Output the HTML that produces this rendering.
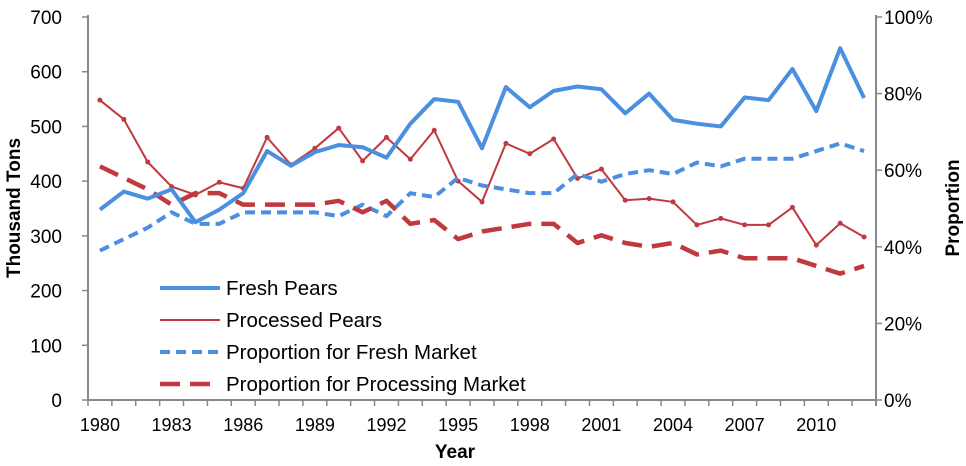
<!DOCTYPE html>
<html><head><meta charset="utf-8"><style>
body{margin:0;background:#fff;}
svg{display:block;font-family:"Liberation Sans",sans-serif;}
</style></head><body>
<svg id="c" width="966" height="466"></svg>
<script>
const years=[];for(let y=1980;y<=2012;y++)years.push(y);
const freshPears=[348,381,368,385,325,348,378,455,428,453,466,462,443,505,550,545,460,572,535,565,573,568,524,560,512,505,500,553,548,605,528,643,552];
const processedPears=[548,513,435,390,375,398,387,480,430,460,497,437,480,440,493,400,362,469,450,477,405,422,365,368,362,320,332,320,320,352,283,323,298];
const propFresh=[39,42,45,49,46,46,49,49,49,49,48,51,48,54,53,58,56,55,54,54,59,57,59,60,59,62,61,63,63,63,65,67,65];
const propProc=[61,58,55,51,54,54,51,51,51,51,52,49,52,46,47,42,44,45,46,46,41,43,41,40,41,38,39,37,37,37,35,33,35];
const leftTicks=[0,100,200,300,400,500,600,700];
const rightTicks=[0,20,40,60,80,100];
const xLabels=[1980,1983,1986,1989,1992,1995,1998,2001,2004,2007,2010];

const L=88,R=876,T=17,B=400,n=years.length,cw=(R-L)/n;
const x=y=>L+cw*(years.indexOf(y)+0.5);
const yl=v=>B-(B-T)*v/700;
const yr=v=>B-(B-T)*v/100;
const svg=document.getElementById('c');
const NS='http://www.w3.org/2000/svg';
function mk(t,a,p){const e=document.createElementNS(NS,t);for(const k in a)e.setAttribute(k,a[k]);(p||svg).appendChild(e);return e;}

let e=mk('line',{x1:L,y1:T-2,x2:L,y2:B,stroke:'#888','stroke-width':2});

e=mk('line',{x1:R,y1:T-2,x2:R,y2:B+6,stroke:'#888','stroke-width':2});

e=mk('line',{x1:L,y1:B,x2:R,y2:B,stroke:'#888','stroke-width':2});

for(let i=0;i<=n;i++){e=mk('line',{x1:L+cw*i,y1:B,x2:L+cw*i,y2:B+6,stroke:'#888','stroke-width':1.5});
}
leftTicks.forEach(v=>{e=mk('line',{x1:L-6,y1:yl(v),x2:L,y2:yl(v),stroke:'#888','stroke-width':1.5});

e=mk('text',{x:L-26,y:yl(v)+7,'text-anchor':'end','font-size':19});e.textContent=v;
});
rightTicks.forEach(v=>{e=mk('line',{x1:R,y1:yr(v),x2:R+6,y2:yr(v),stroke:'#888','stroke-width':1.5});

e=mk('text',{x:R+8,y:yr(v)+7,'font-size':19});e.textContent=v+'%';
});
xLabels.forEach(v=>{e=mk('text',{x:x(v),y:B+31,'text-anchor':'middle','font-size':18});e.textContent=v;
});
e=mk('text',{x:455,y:458,'text-anchor':'middle','font-size':19,'font-weight':'bold'});e.textContent='Year';

e=mk('text',{x:0,y:0,'text-anchor':'middle','font-size':19,'font-weight':'bold',transform:'translate(20,208) rotate(-90)'});e.textContent='Thousand Tons';

e=mk('text',{x:0,y:0,'text-anchor':'middle','font-size':19,'font-weight':'bold',transform:'translate(959,208) rotate(-90)'});e.textContent='Proportion';


const series=[
 {d:processedPears,f:yl,c:'#c0393f',w:2,dash:'',name:'processed-pears-line',label:'Processed Pears'},
 {d:propFresh,f:yr,c:'#4a8fe0',w:4,dash:'10,6',name:'proportion-fresh-line',label:'Proportion for Fresh Market'},
 {d:propProc,f:yr,c:'#c0393f',w:4.5,dash:'20,10',name:'proportion-processing-line',label:'Proportion for Processing Market'},
 {d:freshPears,f:yl,c:'#4a8fe0',w:4,dash:'',name:'fresh-pears-line',label:'Fresh Pears'}];
series.forEach(s=>{
 const pts=s.d.map((v,i)=>x(years[i])+','+s.f(v)).join(' ');
 e=mk('polyline',{points:pts,fill:'none',stroke:s.c,'stroke-width':s.w,'stroke-dasharray':s.dash,'stroke-linejoin':'round'});
 
 if(s.name==='processed-pears-line')s.d.forEach((v,i)=>{e=mk('circle',{cx:x(years[i]),cy:s.f(v),r:2.5,fill:s.c});
 });
});
const leg=[series[3],series[0],series[1],series[2]];
leg.forEach((s,i)=>{const yy=288+i*32;
 const g=mk('g',{});
 mk('line',{x1:160,y1:yy,x2:220,y2:yy,stroke:s.c,'stroke-width':s.w,'stroke-dasharray':s.dash},g);
 const t=mk('text',{x:226,y:yy+7,'font-size':20.5},g);t.textContent=s.label;});
</script>
</body></html>
